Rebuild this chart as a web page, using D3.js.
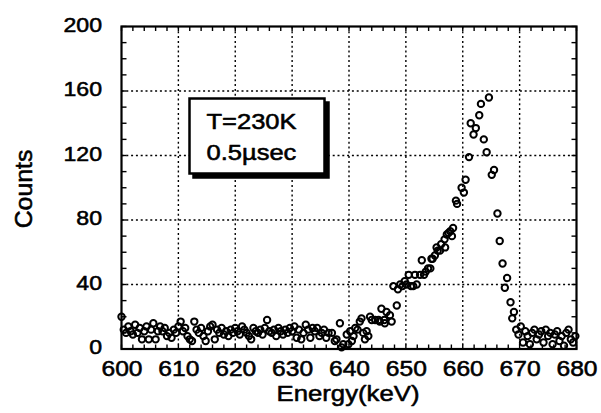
<!DOCTYPE html>
<html><head><meta charset="utf-8">
<script src="https://cdn.jsdelivr.net/npm/d3@7"></script>
<style>body{margin:0;background:#fff}svg{display:block}</style>
</head><body><svg id="c" width="601" height="413"></svg>
<script>
// ---- data ----
const energy = [
600.0,600.4,600.8,601.2,601.6,602.0,602.4,602.8,603.2,603.6,
604.0,604.4,604.8,605.2,605.6,606.0,606.4,606.8,607.2,607.6,
608.0,608.4,608.8,609.2,609.6,610.0,610.4,610.8,611.2,611.6,
612.0,612.4,612.8,613.2,613.6,614.0,614.4,614.8,615.2,615.6,
616.0,616.4,616.8,617.2,617.6,618.0,618.4,618.8,619.2,619.6,
620.0,620.4,620.8,621.2,621.6,622.0,622.4,622.8,623.2,623.6,
624.0,624.4,624.8,625.2,625.6,626.0,626.4,626.8,627.2,627.6,
628.0,628.4,628.8,629.2,629.6,630.0,630.4,630.8,631.2,631.6,
632.0,632.4,632.8,633.2,633.6,634.0,634.4,634.8,635.2,635.6,
636.0,636.4,
637.0,637.5,637.8,638.4,638.7,639.0,639.6,639.9,640.2,640.5,
640.8,641.1,641.5,641.9,642.2,642.5,642.8,643.1,643.4,643.7,
644.0,644.6,645.2,645.4,645.7,646.2,646.3,646.6,647.2,647.5,
647.8,648.4,648.6,649.0,649.4,649.8,650.1,650.5,650.9,651.3,
651.6,651.9,652.5,652.8,653.2,653.5,653.9,654.3,654.5,654.7,
655.1,655.4,655.6,656.0,656.2,656.8,656.9,657.2,657.5,657.8,
658.1,658.3,658.8,659.0,659.8,660.2,660.5,661.1,661.4,661.9,
662.3,662.9,663.2,663.7,664.2,664.6,665.1,665.5,666.1,666.5,
667.0,667.4,667.8,668.4,668.7,669.0,669.4,669.8,670.2,670.6,
671.0,671.4,671.8,672.2,672.6,673.0,673.4,673.8,674.2,674.6,
675.0,675.4,675.8,676.2,676.6,677.0,677.4,677.8,678.2,678.6,
679.0,679.4,679.8
];
const counts = [
20,12,10,14,11,9,15,10,13,6,
11,14,6,12,16,6,11,14,11,13,
8,10,7,12,10,14,17,11,13,8,
6,5,17,12,10,13,8,5,11,14,
15,6,12,10,13,9,11,8,12,10,
13,11,9,14,12,10,8,6,13,11,
10,12,9,13,18,11,10,12,8,13,
11,9,12,10,13,11,14,7,12,6,
10,15,12,7,13,11,13,8,10,12,
7,10,
10,5,6,16,1,3,9,3,11,5,
8,13,12,17,19,10,6,11,8,20,
18,18,18,17,25,18,16,23,21,17,
39,27,37,40,39,42,40,46,39,39,
46,40,46,55,46,48,50,50,56,56,
58,63,61,61,65,68,63,71,72,73,
70,75,92,90,100,97,105,119,140,133,
137,145,152,130,122,156,108,111,84,67,
53,38,44,29,19,23,12,9,14,4,
11,8,3,10,12,6,9,11,4,12,
8,10,3,9,11,5,8,2,10,12,
6,4,8
];
const xTicks = [600,610,620,630,640,650,660,670,680];
const yTicks = [0,40,80,120,160,200];
const legendLines = ["T=230K","0.5\u00b5sec"];
const xTitle = "Energy(keV)";
const yTitle = "Counts";

// ---- drawing ----
const FONT = '"Liberation Sans", Arial, Helvetica, sans-serif';
const svg = d3.select("#c");
svg.append("rect").attr("width",601).attr("height",413).attr("fill","#fff");

const x = d3.scaleLinear().domain([600,680]).range([121.5,576.5]);
const y = d3.scaleLinear().domain([0,200]).range([349,26.5]);
const [x0,x1] = x.range(); const [y0,y1] = y.range();

function heavy(sel){
  return sel.style("font-family",FONT).attr("fill","#000")
    .attr("stroke","#000").attr("stroke-width",0.55).attr("stroke-linejoin","round");
}

// grid
const grid = svg.append("g").attr("stroke","#000").attr("stroke-width",1.4).attr("stroke-dasharray","2,2.8");
grid.selectAll(".gx").data(xTicks.slice(1,-1)).join("line")
  .attr("x1",d=>x(d)).attr("x2",d=>x(d)).attr("y1",y1).attr("y2",y0);
grid.selectAll(".gy").data(yTicks.slice(1,-1)).join("line")
  .attr("y1",d=>y(d)).attr("y2",d=>y(d)).attr("x1",x0).attr("x2",x1);

// minor ticks (inside)
const tk = svg.append("g").attr("stroke","#000").attr("stroke-width",1.4);
const xm = x.ticks(40), ym = y.ticks(20);
tk.selectAll(".tb").data(xm).join("line").attr("x1",d=>x(d)).attr("x2",d=>x(d)).attr("y1",y0).attr("y2",y0-4.5);
tk.selectAll(".tt").data(xm).join("line").attr("x1",d=>x(d)).attr("x2",d=>x(d)).attr("y1",y1).attr("y2",y1+4.5);
tk.selectAll(".tl").data(ym).join("line").attr("y1",d=>y(d)).attr("y2",d=>y(d)).attr("x1",x0).attr("x2",x0+5);
tk.selectAll(".tr").data(ym).join("line").attr("y1",d=>y(d)).attr("y2",d=>y(d)).attr("x1",x1).attr("x2",x1-5);

// frame
svg.append("rect").attr("x",x0).attr("y",y1).attr("width",x1-x0).attr("height",y0-y1)
  .attr("fill","none").attr("stroke","#000").attr("stroke-width",2.2);

// axes labels via d3 axes
const ax = svg.append("g").attr("transform",`translate(0,${y0})`)
  .call(d3.axisBottom(x).tickValues(xTicks).tickSize(0).tickFormat(d3.format("d")));
ax.select(".domain").remove();
ax.attr("font-family",null).attr("font-size",null);
heavy(ax.selectAll("text").attr("y",null).attr("dy",null)
  .attr("transform","translate(0,27) scale(1.12,1)").style("font-size","22px"));

const ay = svg.append("g").attr("transform",`translate(${x0},0)`)
  .call(d3.axisLeft(y).tickValues(yTicks).tickSize(0).tickFormat(d3.format("d")));
ay.select(".domain").remove();
ay.attr("font-family",null).attr("font-size",null);
heavy(ay.selectAll("text").attr("x",null).attr("dy",null)
  .attr("transform","translate(-19.5,4.5) scale(1.1,1)").attr("text-anchor","end")
  .style("font-size","21px"));

// titles
heavy(svg.append("text").text(yTitle).attr("text-anchor","middle")
  .attr("transform","translate(32,189) rotate(-90) scale(1.08,1)")
  .style("font-size","23px"));
heavy(svg.append("text").text(xTitle).attr("text-anchor","middle")
  .attr("transform","translate(348,401) scale(1.12,1)")
  .style("font-size","23px"));

// data points
svg.append("g").selectAll("circle").data(energy.map((e,i)=>[e,counts[i]])).join("circle")
  .attr("cx",d=>x(d[0])).attr("cy",d=>y(d[1])).attr("r",3.2)
  .attr("fill","none").attr("stroke","#000").attr("stroke-width",2);

// legend box with shadow
const lg = svg.append("g");
lg.append("rect").attr("x",193.5).attr("y",102.5).attr("width",135).attr("height",75).attr("fill","#000")
  .attr("stroke","#000").attr("stroke-width",2.5);
lg.append("rect").attr("x",189.5).attr("y",98.5).attr("width",135).attr("height",75).attr("fill","#fff")
  .attr("stroke","#000").attr("stroke-width",2.5);
heavy(lg.selectAll("text").data(legendLines).join("text").text(d=>d)
  .attr("transform",(d,i)=>`translate(206.5,${129+i*31}) scale(1.16,1)`)
  .style("font-size","22px"));
</script></body></html>
